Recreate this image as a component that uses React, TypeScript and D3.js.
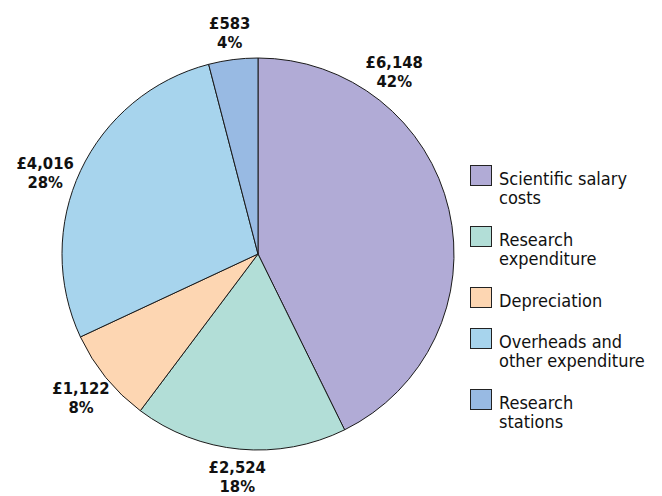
import React from "react";
import * as d3 from "d3";

const categories = [
  "Scientific salary costs",
  "Research expenditure",
  "Depreciation",
  "Overheads and other expenditure",
  "Research stations",
];
const values = [6148, 2524, 1122, 4016, 583];
const valueLabels = ["£6,148", "£2,524", "£1,122", "£4,016", "£583"];
const percentLabels = ["42%", "18%", "8%", "28%", "4%"];
const legendLines = [
  ["Scientific salary", "costs"],
  ["Research", "expenditure"],
  ["Depreciation"],
  ["Overheads and", "other expenditure"],
  ["Research", "stations"],
];
const colors = ["#b1abd6", "#b2ded7", "#fdd6b2", "#a7d4ed", "#98bae3"];
// label angle overrides (degrees clockwise from top) where the label sits off the slice midpoint
const labelAngleOverride: Record<string, number> = {
  "Scientific salary costs": 36.7,
  "Overheads and other expenditure": 291,
};

const W = 662;
const H = 496;
const cx = 258;
const cy = 254;
const R = 196;
const labelR = 228;
const FONT = "'Liberation Sans Narrow', 'DejaVu Sans Condensed', 'Noto Sans', sans-serif";

export default function App() {
  const pie = d3.pie<number>().sort(null).value((d) => d)(values);
  const arc = d3.arc<d3.PieArcDatum<number>>().innerRadius(0).outerRadius(R);

  let ly = 165;
  const legendItems = categories.map((c, i) => {
    const y = ly;
    ly += legendLines[i].length * 20 + 21;
    return { c, i, y };
  });

  return (
    <svg width={W} height={H} style={{ position: "absolute", left: 0, top: 0 }} fontFamily={FONT}>
      <g transform={`translate(${cx},${cy})`}>
        {pie.map((p, i) => (
          <path key={i} d={arc(p) || ""} fill={colors[i]} stroke="#1a1a1a" strokeWidth={1} />
        ))}
        {pie.map((p, i) => {
          const ov = labelAngleOverride[categories[i]];
          const a = ov !== undefined ? (ov * Math.PI) / 180 : (p.startAngle + p.endAngle) / 2;
          const r = Math.abs(Math.cos(a)) > 0.95 ? labelR - 5 : labelR;
          const x = Math.sin(a) * r;
          const y = -Math.cos(a) * r;
          return (
            <text key={i} x={x} y={y} textAnchor="middle" fontWeight="bold" fontSize={16.5} fill="#111">
              <tspan x={x} dy={-3.5}>{valueLabels[i]}</tspan>
              <tspan x={x} dy={19}>{percentLabels[i]}</tspan>
            </text>
          );
        })}
      </g>
      {legendItems.map(({ c, i, y }) => (
        <g key={c}>
          <rect x={470.5} y={y + 0.5} width={21} height={20} fill={colors[i]} stroke="#222" strokeWidth={1} />
          <text x={499} y={y + 19.5} fontSize={18} fill="#111">
            {legendLines[i].map((t, j) => (
              <tspan key={j} x={499} dy={j === 0 ? 0 : 19.5}>{t}</tspan>
            ))}
          </text>
        </g>
      ))}
    </svg>
  );
}
